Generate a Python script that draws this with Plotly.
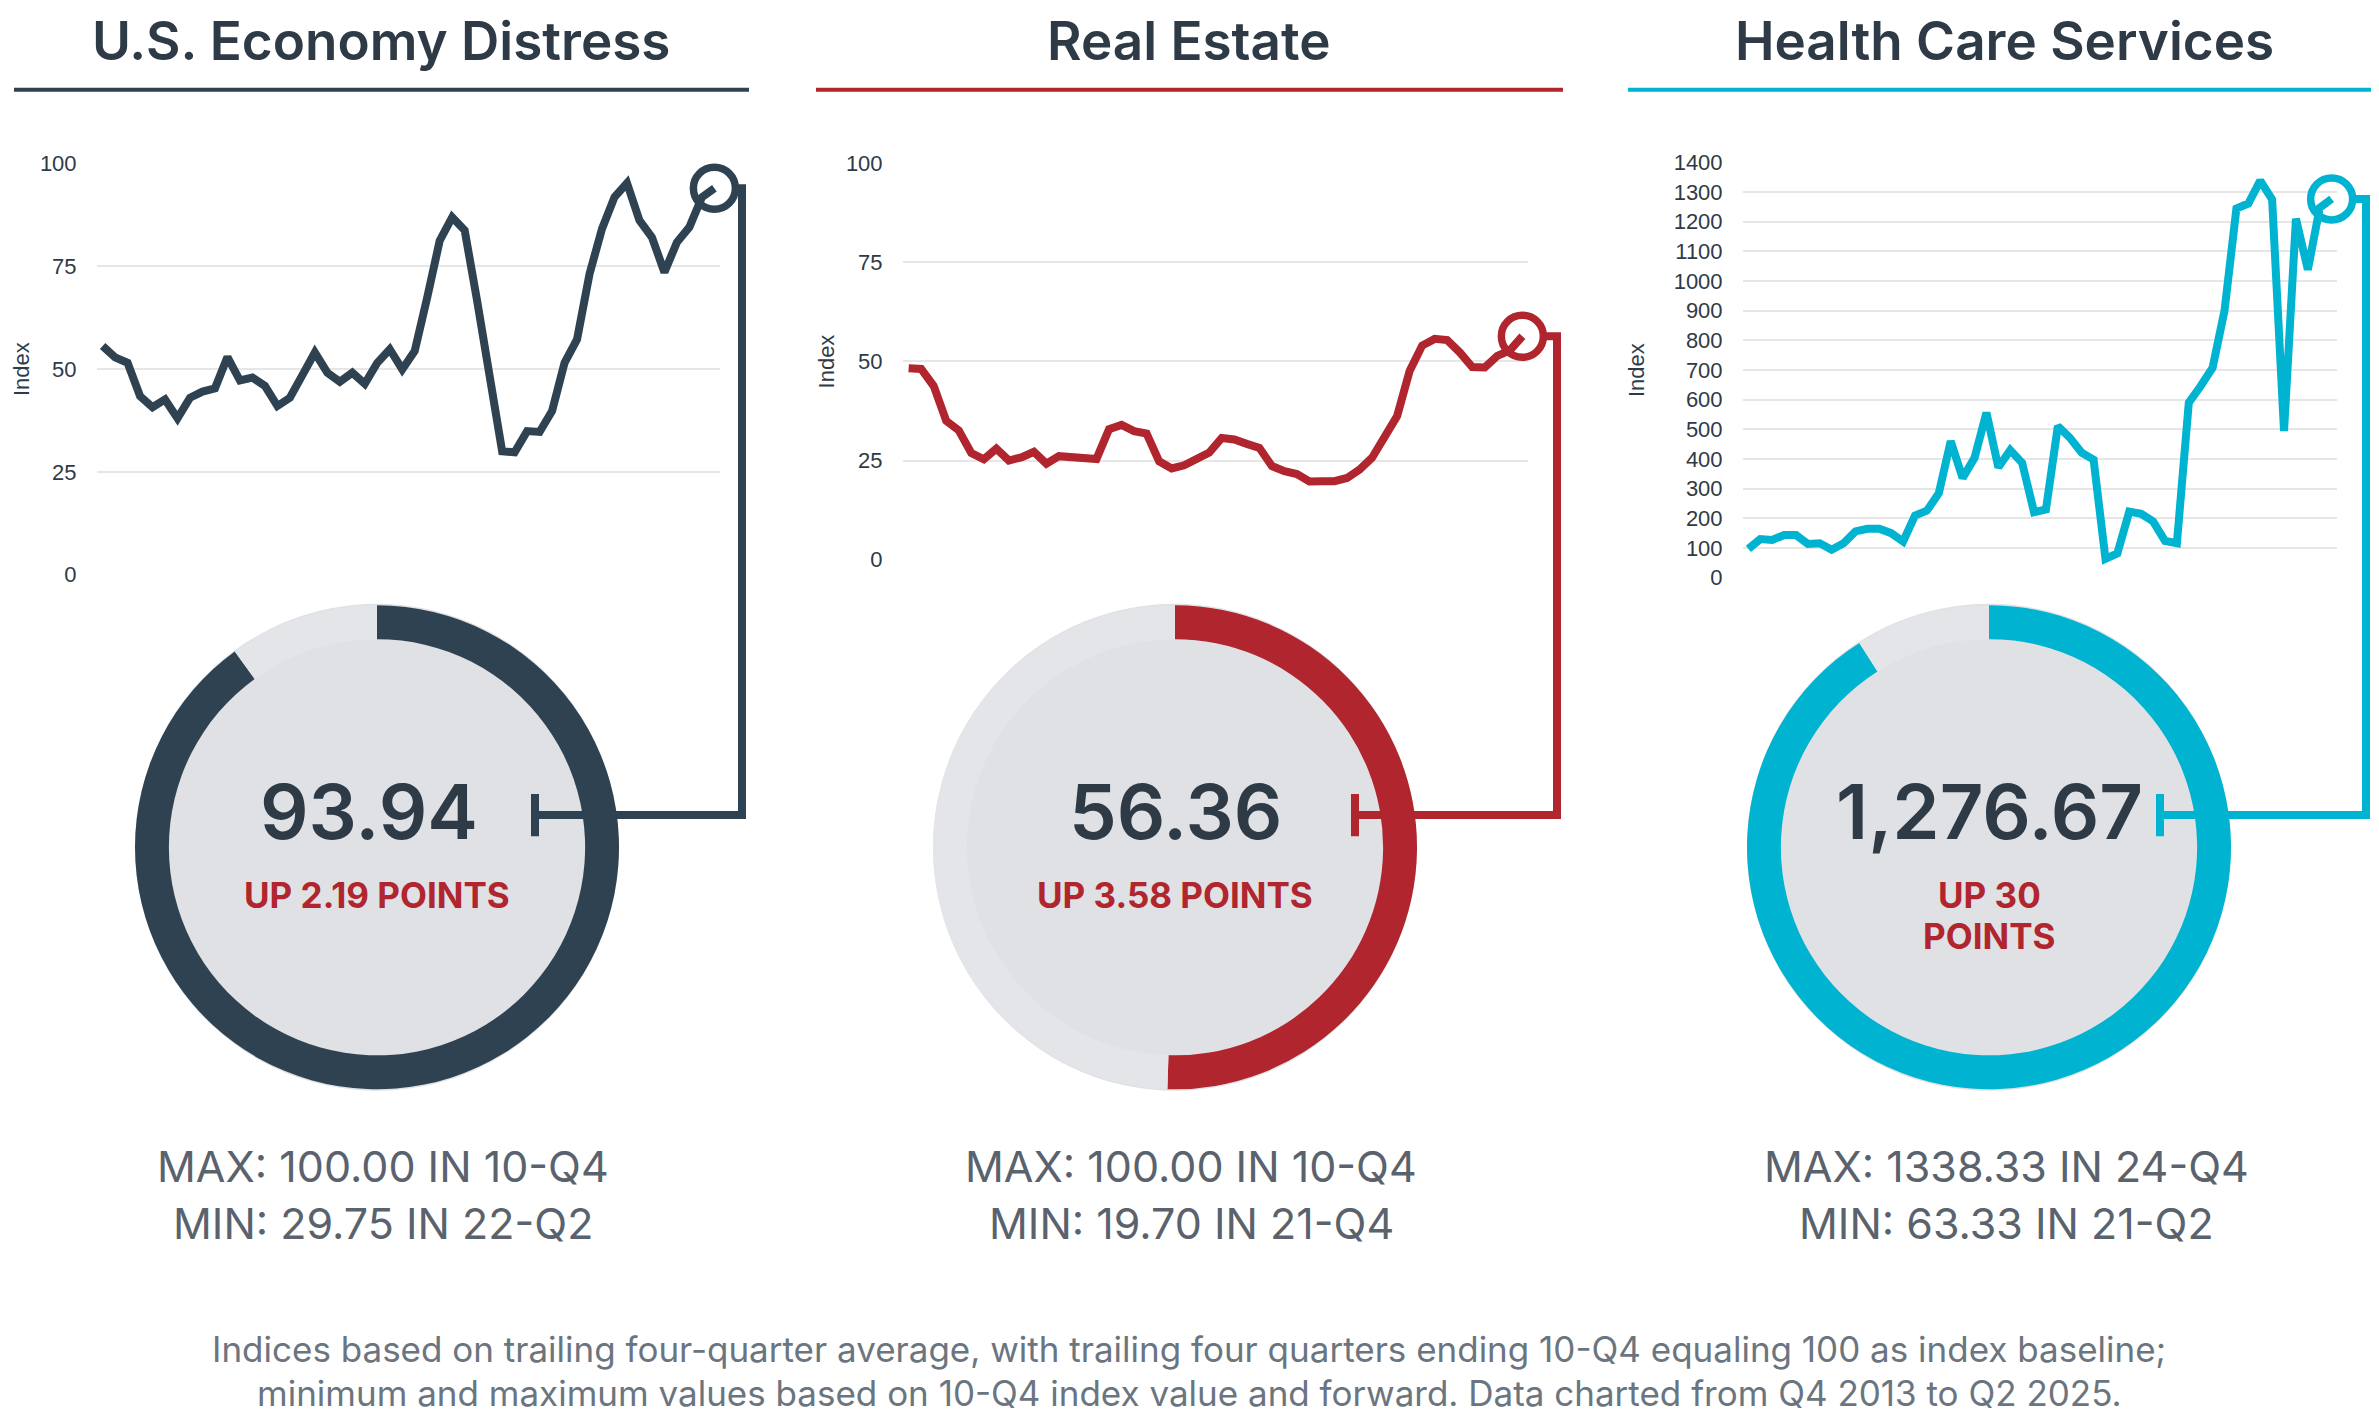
import plotly.graph_objects as go

# page is 2379x1424; the html body keeps an 8px margin, so the figure is drawn
# 16px smaller. Positions below are in reference-picture pixels.
PAGE_W, PAGE_H, OFF = 2379, 1424, 8
W, H = PAGE_W - 2 * OFF, PAGE_H - 2 * OFF
# small vertical correction measured from earlier renders
Y_SCALE, Y_SHIFT = 1.024, -12

# ---- data ----
titles = ["U.S. Economy Distress", "Real Estate", "Health Care Services"]
colors = ["#2f4251", "#b0252e", "#00b3d1"]

economy = [55.6, 52.8, 51.5, 43.4, 40.7, 42.6, 38.0, 43.0, 44.5, 45.3,
           52.9, 47.2, 47.9, 45.9, 41.0, 43.0, 48.5, 54.0, 49.1, 46.9,
           49.1, 46.4, 51.5, 54.8, 49.9, 54.4, 67.4, 81.2, 86.9, 83.7,
           66.5, 48.5, 30.0, 29.75, 34.9, 34.7, 39.8, 51.5, 57.2, 73.1,
           84.1, 91.8, 95.2, 86.1, 82.0, 73.5, 80.8, 84.5, 91.75, 93.94]
real_estate = [48.3, 48.1, 43.8, 35.0, 32.6, 26.9, 25.3, 28.0, 25.0, 25.8,
               27.2, 24.2, 26.1, 25.7, 25.4, 25.4, 32.9, 34.0, 32.4, 31.8,
               24.8, 23.0, 23.8, 25.5, 27.0, 30.7, 30.3, 29.2, 28.2, 23.6,
               22.3, 21.6, 19.7, 19.8, 19.8, 20.6, 22.7, 25.7, 30.9, 36.2,
               47.6, 54.0, 55.7, 55.4, 52.3, 48.6, 48.5, 51.4, 52.78, 56.36]
health_care = [97, 130, 127, 144, 144, 114, 116, 94, 116, 156,
               165, 165, 150, 122, 209, 226, 285, 460, 336, 404,
               556, 372, 430, 387, 221, 230, 511, 472, 421, 398,
               63.33, 82, 223, 215, 190, 124, 116, 590, 646, 708,
               900, 1244, 1261, 1338.33, 1275, 494, 1210, 1038, 1246.67, 1276.67]
series = [economy, real_estate, health_care]

y_ticks = [[0, 25, 50, 75, 100], [0, 25, 50, 75, 100], list(range(0, 1401, 100))]
current = ["93.94", "56.36", "1,276.67"]
change = [["UP 2.19 POINTS"], ["UP 3.58 POINTS"], ["UP 30", "POINTS"]]
gauge_share = [0.90, 0.505, 0.91]
max_text = ["MAX: 100.00 IN 10-Q4", "MAX: 100.00 IN 10-Q4", "MAX: 1338.33 IN 24-Q4"]
min_text = ["MIN: 29.75 IN 22-Q2", "MIN: 19.70 IN 21-Q4", "MIN: 63.33 IN 21-Q2"]
footnote = ["Indices based on trailing four-quarter average, with trailing four quarters ending 10-Q4 equaling 100 as index baseline;",
            "minimum and maximum values based on 10-Q4 index value and forward. Data charted from Q4 2013 to Q2 2025."]

# ---- layout positions (reference pixels) ----
grid_x = [(97, 720), (903, 1528), (1743, 2337)]
grid_y = [(162, 571), (162, 556), (161, 574)]
title_x = [381, 1189, 2004]
rule_x = [(14, 749), (816, 1563), (1628, 2379)]
conn_x = [742, 1557, 2366]
bar_x = [535, 1355, 2160]
conn_y = 810
donut = [(377, 842), (1175, 842), (1989, 842)]
donut_r = 242
index_x = [22, 826, 1637]

FONT = "Inter, Open Sans, sans-serif"
TICKFONT = "Liberation Sans, Arial, sans-serif"
DARK = "#2e3b47"
RED = "#b0252e"


def fx(p):
    return min(max((p - OFF) / W, 0), 1)


def fy(p):
    return min(max(1 - (Y_SCALE * p + Y_SHIFT - OFF) / H, 0), 1)


fig = go.Figure()
shapes = []
annotations = []
layout = {}

for i, vals in enumerate(series):
    k = i + 1
    kc = i + 4
    c = colors[i]
    n = len(vals)
    gx0, gx1 = grid_x[i]
    gtop, gbot = grid_y[i]
    xr = [-0.45, n - 1 + 0.45]
    ppx = (gx1 - gx0) / (xr[1] - xr[0])
    ytop = y_ticks[i][-1]
    ppy = (gbot - gtop) / ytop

    # grid subplot
    layout[f"xaxis{k}"] = dict(domain=[fx(gx0), fx(gx1)], range=xr, visible=False,
                               anchor=f"y{k}")
    layout[f"yaxis{k}"] = dict(domain=[fy(gbot), fy(gtop)], range=[0, ytop],
                               tickvals=y_ticks[i], showgrid=True, gridcolor="#e6e6e6",
                               gridwidth=2, zeroline=False, showline=False,
                               ticks="outside", ticklen=15, tickcolor="rgba(0,0,0,0)",
                               tickfont=dict(family=TICKFONT, size=22, color=DARK),
                               anchor=f"x{k}")
    # invisible connector subplot sharing the same scales
    cx1 = min(conn_x[i] + 20, OFF + W)
    cbot = conn_y + 40
    layout[f"xaxis{kc}"] = dict(domain=[fx(gx0), fx(cx1)],
                                range=[xr[0], xr[0] + (cx1 - gx0) / ppx],
                                visible=False, anchor=f"y{kc}")
    layout[f"yaxis{kc}"] = dict(domain=[fy(cbot), fy(gtop)],
                                range=[-(cbot - gbot) / ppy, ytop],
                                visible=False, anchor=f"x{kc}")

    fig.add_trace(go.Scatter(x=list(range(n)), y=vals, mode="lines",
                             line=dict(color=c, width=8), xaxis=f"x{k}", yaxis=f"y{k}",
                             hoverinfo="skip", showlegend=False))
    fig.add_trace(go.Scatter(x=[n - 1], y=[vals[-1]], mode="markers", cliponaxis=False,
                             marker=dict(symbol="circle-open", size=42, color=c,
                                         line=dict(color=c, width=7.5)),
                             xaxis=f"x{k}", yaxis=f"y{k}", hoverinfo="skip", showlegend=False))

    # elbow connector from last point down to the gauge value
    x_start = n - 1 + 21 / ppx
    x_vert = xr[0] + (conn_x[i] - gx0) / ppx
    x_bar = xr[0] + (bar_x[i] - gx0) / ppx
    lvl = -(conn_y - gbot) / ppy
    half = 21 / ppy
    fig.add_trace(go.Scatter(x=[x_start, x_vert, x_vert, x_bar, None, x_bar, x_bar],
                             y=[vals[-1], vals[-1], lvl, lvl, None, lvl + half, lvl - half],
                             mode="lines", line=dict(color=c, width=8),
                             xaxis=f"x{kc}", yaxis=f"y{kc}", hoverinfo="skip",
                             showlegend=False))

    # gauge donut
    dx, dy = donut[i]
    box_x = [fx(dx - donut_r), fx(dx + donut_r)]
    box_y = [fy(dy + donut_r), fy(dy - donut_r)]
    shapes.append(dict(type="circle", xref="paper", yref="paper", layer="below",
                       x0=box_x[0], x1=box_x[1], y0=box_y[0], y1=box_y[1],
                       fillcolor="#dfe1e4", line=dict(width=0)))
    fig.add_trace(go.Pie(values=[gauge_share[i], 1 - gauge_share[i]], hole=0.86,
                         sort=False, direction="clockwise", rotation=0,
                         marker=dict(colors=[c, "#e3e5e8"], line=dict(width=0)),
                         textinfo="none", hoverinfo="skip", showlegend=False,
                         domain=dict(x=box_x, y=box_y)))

    # title and rule
    annotations.append(dict(text=titles[i], x=fx(title_x[i]), y=fy(40), xref="paper",
                            yref="paper", showarrow=False, xanchor="center", yanchor="middle",
                            font=dict(family=FONT, size=53, color=DARK, weight=600)))
    shapes.append(dict(type="line", xref="paper", yref="paper",
                       x0=fx(rule_x[i][0]), x1=fx(rule_x[i][1]), y0=fy(89), y1=fy(89),
                       line=dict(color=c, width=4)))
    annotations.append(dict(text="Index", x=fx(index_x[i]), y=fy((gtop + gbot) / 2),
                            xref="paper", yref="paper", showarrow=False, textangle=-90,
                            xanchor="center", yanchor="middle",
                            font=dict(family=TICKFONT, size=22, color=DARK)))

    # gauge texts
    annotations.append(dict(text=current[i], x=fx(dx - 8 if i == 0 else dx), y=fy(conn_y - 4),
                            xref="paper", yref="paper", showarrow=False,
                            xanchor="center", yanchor="middle",
                            font=dict(family=FONT, size=76, color=DARK, weight=600)))
    for j, part in enumerate(change[i]):
        annotations.append(dict(text=part, x=fx(dx), y=fy(889 + 41 * j), xref="paper",
                                yref="paper", showarrow=False, xanchor="center",
                                yanchor="middle",
                                font=dict(family=FONT, size=35, color=RED, weight=700)))
    annotations.append(dict(text=max_text[i], x=fx(title_x[i] + 2), y=fy(1159), xref="paper",
                            yref="paper", showarrow=False, xanchor="center", yanchor="middle",
                            font=dict(family=FONT, size=43, color="#5a636d")))
    annotations.append(dict(text=min_text[i], x=fx(title_x[i] + 2), y=fy(1216), xref="paper",
                            yref="paper", showarrow=False, xanchor="center", yanchor="middle",
                            font=dict(family=FONT, size=43, color="#5a636d")))

for j, line in enumerate(footnote):
    annotations.append(dict(text=line, x=fx(1189), y=fy(1341 + 44 * j), xref="paper",
                            yref="paper", showarrow=False, xanchor="center", yanchor="middle",
                            font=dict(family=FONT, size=35, color="#6b7580")))

fig.update_layout(width=W, height=H, autosize=False,
                  margin=dict(l=0, r=0, t=0, b=0),
                  paper_bgcolor="white", plot_bgcolor="rgba(0,0,0,0)",
                  shapes=shapes, annotations=annotations, **layout)

fig.write_html("out.html")
